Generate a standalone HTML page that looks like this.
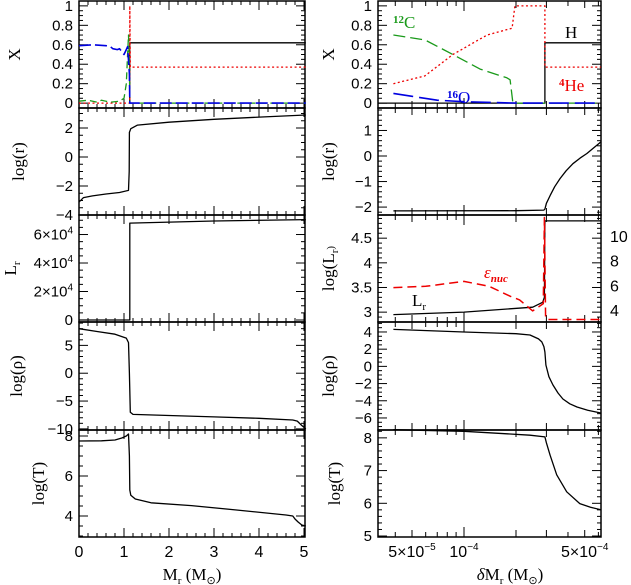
<!DOCTYPE html>
<html><head><meta charset="utf-8"><style>
html,body{margin:0;padding:0;background:#fff;}
svg{display:block;font-family:"Liberation Sans",sans-serif;}
.t{font-family:"Liberation Serif",serif;}
</style></head><body>
<svg id="c" width="631" height="585" viewBox="0 0 631 585" xmlns="http://www.w3.org/2000/svg"></svg>
<script>
// ---- data: left column (x = M_r in Msun) ----
const lH_x=[1.13,1.13,5.04], lH_y=[0,0.62,0.62];
const lHe_x=[0,1.1,1.13,1.13,1.14,5.04], lHe_y=[0,0,0,1.0,0.37,0.37];
const lO_x=[0,0.3,0.6,0.7,0.75,0.85,0.9,0.95,1.0,1.05,1.08,1.12,1.13,5.04], lO_y=[0.59,0.6,0.59,0.58,0.56,0.55,0.56,0.53,0.5,0.55,0.58,0.3,0,0];
const lC_x=[0,0.2,0.4,0.5,0.7,0.9,1.0,1.05,1.08,1.1,1.12,1.13,5.04], lC_y=[0.02,0.03,0.01,0.03,0.01,0.02,0.05,0.2,0.5,0.7,0.4,0,0];
const lR_x=[0,0.05,0.1,0.3,0.6,0.9,1.1,1.115,1.12,1.15,1.3,2,3,4,5.04], lR_y=[-3.1,-2.95,-2.8,-2.68,-2.55,-2.45,-2.3,-1.0,1.7,1.95,2.2,2.4,2.6,2.75,2.9];
const lL_x=[0,1.12,1.13,1.13,3,5.04], lL_y=[0,0,0,68000,69500,70500];
const lRho_x=[0,0.4,0.8,1.05,1.1,1.12,1.14,1.2,2,3,4,4.75,4.85,4.95,5.04], lRho_y=[8,7.5,7,6.3,5.5,0,-7,-7.4,-7.6,-7.85,-8.1,-8.4,-8.6,-9.4,-10];
const lT_x=[0,0.5,0.8,0.95,1.05,1.1,1.12,1.13,1.15,1.25,1.6,2.5,3.5,4.6,4.75,4.8,4.87,4.95,5.04], lT_y=[7.75,7.76,7.8,7.9,8.0,8.1,7.0,5.3,5.04,4.85,4.66,4.52,4.3,4.05,4.0,3.85,3.7,3.55,3.5];
// ---- data: right column (x = dM_r in Msun, log axis) ----
const rH_x=[3.2e-5,2.94e-4,2.94e-4,6.2e-4], rH_y=[0,0,0.62,0.62];
const rHe_x=[3.9e-5,5.94e-5,8.63e-5,1.36e-4,1.9e-4,1.97e-4,2.94e-4,2.94e-4,6.2e-4], rHe_y=[0.2,0.28,0.5,0.7,0.77,1.0,1.0,0.37,0.37];
const rC_x=[3.9e-5,5.94e-5,8.63e-5,1.24e-4,1.77e-4,1.85e-4,1.92e-4,6.2e-4], rC_y=[0.7,0.65,0.5,0.35,0.26,0.24,0,0];
const rO_x=[3.9e-5,5e-5,7e-5,1e-4,2e-4,6.2e-4], rO_y=[0.1,0.07,0.03,0.015,0,0];
const rR_x=[3.9e-5,2e-4,2.9e-4,2.94e-4,3.0e-4,3.15e-4,3.35e-4,3.6e-4,3.9e-4,4.27e-4,4.7e-4,5.15e-4,5.6e-4,6.2e-4], rR_y=[-2.15,-2.14,-2.12,-2.08,-1.85,-1.55,-1.2,-0.88,-0.58,-0.3,-0.08,0.1,0.3,0.55];
const rL_x=[3.9e-5,1e-4,2.5e-4,2.85e-4,2.92e-4,2.94e-4,6.2e-4], rL_y=[2.95,3.0,3.1,3.2,3.3,4.85,4.85];
const rE_x=[3.9e-5,6e-5,1e-4,1.4e-4,1.85e-4,2.1e-4,2.5e-4,2.75e-4,2.88e-4,2.92e-4,2.97e-4,3.05e-4,6.2e-4], rE_y=[5.9,6.0,6.4,6.0,5.2,4.9,4.0,4.4,4.6,11.6,3.4,3.3,3.3];
const rRho_x=[3.9e-5,1e-4,2e-4,2.41e-4,2.7e-4,2.82e-4,2.9e-4,2.94e-4,2.98e-4,3.1e-4,3.27e-4,3.5e-4,3.74e-4,4.1e-4,4.51e-4,5.2e-4,6.2e-4], rRho_y=[4.3,4.0,3.8,3.65,3.2,2.84,2.3,1.67,0.16,-1.2,-2.16,-3.1,-3.8,-4.35,-4.72,-5.1,-5.42];
const rT_x=[3.9e-5,1e-4,2.41e-4,2.94e-4,3.0e-4,3.15e-4,3.44e-4,3.93e-4,4.68e-4,5.4e-4,6.2e-4], rT_y=[8.25,8.2,8.08,8.03,7.85,7.47,6.87,6.35,5.99,5.88,5.8];
// tick labels
const lxTicks=[0,1,2,3,4,5];
const rxTickVals=[5e-5,1e-4,5e-4];
const rxTickLabels=[["5×10","−5"],["10","−4"],["5×10","−4"]];

const NS="http://www.w3.org/2000/svg";
const svg=document.getElementById('c');
function el(tag,attrs,parent){const e=document.createElementNS(NS,tag);for(const k in attrs)e.setAttribute(k,attrs[k]);(parent||svg).appendChild(e);return e;}
const L0=79,L1=305,R0=378,R1=601;
const rows=[[1,108],[108,215],[215,322],[322,430],[430,537]];
function xl(v){return L0+45*v;}
function xr(v){return 464+172.7*Math.log10(v/1e-4);}
function ysc(row,lo,hi){const [a,b]=rows[row];return v=>b-(v-lo)/(hi-lo)*(b-a);}

function line(g,xs,ys,fx,fy,stroke,dash,name,w){
  let d='';for(let i=0;i<xs.length;i++){d+=(i?'L':'M')+fx(xs[i]).toFixed(1)+','+fy(ys[i]).toFixed(1);}
  const p=el('path',{d:d,fill:'none',stroke:stroke,'stroke-width':w||1.3,'stroke-linejoin':'round'},g);
  if(dash)p.setAttribute('stroke-dasharray',dash);
  
  
  return p;
}
function txt(g,x,y,s,opts){const t=el('text',Object.assign({x:x,y:y,'font-size':15},opts||{}),g);t.textContent=s;return t;}

function panel(name,x0,x1,row,fy,lo,hi,major,minor,labels,fmt,xIsLog){
  const [a,b]=rows[row];
  const g=el('g',{});
  
  
  for(let v=Math.ceil(lo/minor)*minor;v<=hi+1e-9;v+=minor){
    const isMaj=Math.abs(v/major-Math.round(v/major))<1e-6;const L=isMaj?9:4;const y=fy(v);
    el('line',{x1:x0,x2:x0+L,y1:y,y2:y,stroke:'#000','stroke-width':1},g);
    el('line',{x1:x1,x2:x1-L,y1:y,y2:y,stroke:'#000','stroke-width':1},g);
  }
  labels.forEach((v,i)=>{const t=txt(g,x0-6,fy(v)+5,'',{'text-anchor':'end'});fmt(t,v);});
  if(!xIsLog){
    for(let i=0;i<=25;i++){const v=i*0.2;const x=xl(v);if(x>x1)break;const L=(i%5==0)?9:4;
      el('line',{x1:x,x2:x,y1:a,y2:a+L,stroke:'#000'},g);el('line',{x1:x,x2:x,y1:b,y2:b-L,stroke:'#000'},g);}
  } else {
    const vals=[4e-5,5e-5,6e-5,7e-5,8e-5,9e-5,1e-4,2e-4,3e-4,4e-4,5e-4,6e-4];
    vals.forEach(v=>{const x=xr(v);const L=(v==1e-4)?10:((v==5e-5||v==5e-4||v==2e-4||v==3e-4)?7:5);
      el('line',{x1:x,x2:x,y1:a,y2:a+L,stroke:'#000'},g);el('line',{x1:x,x2:x,y1:b,y2:b-L,stroke:'#000'},g);});
  }
  el('rect',{x:x0,y:a,width:x1-x0,height:b-a,fill:'none',stroke:'#000','stroke-width':1.5},g);
  return g;
}
const num=(t,v)=>{t.textContent=(v<0?'−':'')+Math.abs(v);};
const lr=(t,v)=>{if(v==0){t.textContent='0';return;}t.textContent=(v/1e4)+'×10';const s=el('tspan',{dy:-6,'font-size':10},t);s.textContent='4';};

function ylabel(x,row,name,parts){
  const [a,b]=rows[row];const cy=(a+b)/2;
  const t=el('text',{x:x,y:cy,'font-size':17,'text-anchor':'middle',transform:`rotate(-90 ${x} ${cy})`,class:'t'});
  
  
  parts.forEach(p=>{const s=el('tspan',p[1]?{'font-size':11,dy:p[1]}:{},t);s.textContent=p[0];});
}

// LEFT COLUMN
let fy,g;
fy=ysc(0,-0.05,1.05);
g=panel('left-abundance-panel',L0,L1,0,fy,-0.05,1.05,0.2,0.05,[0,0.2,0.4,0.6,0.8,1],num,false);
line(g,lH_x,lH_y,xl,fy,'#000',null,'left-h-line');
line(g,lHe_x,lHe_y,xl,fy,'#e00','2,2.5','left-he-line');
line(g,lC_x,lC_y,xl,fy,'#1a9a1a','7,4','left-c12-line');
line(g,lO_x,lO_y,xl,fy,'#0000e0','12,4','left-o16-line',1.6);
ylabel(20,0,'left-x-axis-title',[['X']]);

fy=ysc(1,-4,3.38);
g=panel('left-radius-panel',L0,L1,1,fy,-4,3.38,2,0.5,[-4,-2,0,2],num,false);
line(g,lR_x,lR_y,xl,fy,'#000',null,'left-logr-line');
ylabel(24,1,'left-logr-title',[['log(r)']]);

fy=ysc(2,-1400,73700);
g=panel('left-luminosity-panel',L0,L1,2,fy,-1400,73700,20000,5000,[0,20000,40000,60000],lr,false);
line(g,lL_x,lL_y,xl,fy,'#000',null,'left-lr-line');
ylabel(16,2,'left-lr-title',[['L'],['r',4]]);

fy=ysc(3,-10.2,9.2);
g=panel('left-density-panel',L0,L1,3,fy,-10.2,9.2,5,1,[-10,-5,0,5],num,false);
line(g,lRho_x,lRho_y,xl,fy,'#000',null,'left-logrho-line');
ylabel(22,3,'left-logrho-title',[['log(ρ)']]);

fy=ysc(4,2.95,8.3);
g=panel('left-temperature-panel',L0,L1,4,fy,2.95,8.3,2,0.5,[4,6,8],num,false);
line(g,lT_x,lT_y,xl,fy,'#000',null,'left-logt-line');
ylabel(44,4,'left-logt-title',[['log(T)']]);

lxTicks.forEach(v=>{const t=txt(svg,xl(v),557,String(v),{'text-anchor':'middle','font-size':16});});
{const t=el('text',{x:192,y:580,'font-size':17,'text-anchor':'middle',class:'t'});
 const a=el('tspan',{},t);a.textContent='M';const b=el('tspan',{dy:4,'font-size':11},t);b.textContent='r';const c=el('tspan',{dy:-4},t);c.textContent=' (M';const d=el('tspan',{dy:4,'font-size':11},t);d.textContent='⊙';const e=el('tspan',{dy:-4},t);e.textContent=')';}

// RIGHT COLUMN
fy=ysc(0,-0.05,1.05);
g=panel('right-abundance-panel',R0,R1,0,fy,-0.05,1.05,0.2,0.05,[0,0.2,0.4,0.6,0.8,1],num,true);
line(g,rH_x,rH_y,xr,fy,'#000',null,'right-h-line');
line(g,rHe_x,rHe_y,xr,fy,'#e00','2,2.5','right-he-line');
line(g,rC_x,rC_y,xr,fy,'#1a9a1a','12,5','right-c12-line');
line(g,rO_x,rO_y,xr,fy,'#0000e0','20,6','right-o16-line',1.6);
{let t=txt(g,393,28,'',{fill:'#1a9a1a',class:'t','font-size':17});
 let s=el('tspan',{dy:-5,'font-size':11,'font-weight':'bold'},t);s.textContent='12';s=el('tspan',{dy:5},t);s.textContent='C';
 t=txt(g,447,103,'',{fill:'#0000e0',class:'t','font-size':17});
 s=el('tspan',{dy:-5,'font-size':11,'font-weight':'bold'},t);s.textContent='16';s=el('tspan',{dy:5},t);s.textContent='O';
 t=txt(g,565,38,'H',{class:'t','font-size':17});
 t=txt(g,559,91,'',{fill:'#e00',class:'t','font-size':17});
 s=el('tspan',{dy:-5,'font-size':11,'font-weight':'bold'},t);s.textContent='4';s=el('tspan',{dy:5},t);s.textContent='He';}
ylabel(334,0,'right-x-axis-title',[['X']]);

fy=ysc(1,-2.31,1.88);
g=panel('right-radius-panel',R0,R1,1,fy,-2.31,1.88,1,0.2,[-2,-1,0,1],num,true);
line(g,rR_x,rR_y,xr,fy,'#000',null,'right-logr-line');
ylabel(334,1,'right-logr-title',[['log(r)']]);

fy=ysc(2,2.8,4.97);
const fe=ysc(2,3.1,11.8);
g=panel('right-luminosity-panel',R0,R1,2,fy,2.8,4.97,0.5,0.1,[3,3.5,4,4.5],num,true);
line(g,rL_x,rL_y,xr,fy,'#000',null,'right-logl-line');
line(g,rE_x,rE_y,xr,fe,'#e00','9,5','right-eps-nuc-line',1.5);
[4,6,8,10].forEach(v=>{const t=txt(g,610,fe(v)+5,String(v),{'font-size':16});});
{let t=txt(g,484,278,'ε',{fill:'#e00',class:'t','font-size':17,'font-style':'italic'});
 let s=el('tspan',{dy:4,'font-size':11,'font-weight':'bold'},t);s.textContent='nuc';
 t=txt(g,412,306,'L',{class:'t','font-size':17});
 s=el('tspan',{dy:4,'font-size':11},t);s.textContent='r';}
ylabel(334,2,'right-logl-title',[['log(L'],['r',4],[')',-4]]);

fy=ysc(3,-7.4,5.16);
g=panel('right-density-panel',R0,R1,3,fy,-7.4,5.16,2,0.5,[-6,-4,-2,0,2,4],num,true);
line(g,rRho_x,rRho_y,xr,fy,'#000',null,'right-logrho-line');
ylabel(334,3,'right-logrho-title',[['log(ρ)']]);

fy=ysc(4,4.97,8.24);
g=panel('right-temperature-panel',R0,R1,4,fy,4.97,8.24,1,0.2,[5,6,7,8],num,true);
line(g,rT_x,rT_y,xr,fy,'#000',null,'right-logt-line');
ylabel(340,4,'right-logt-title',[['log(T)']]);

rxTickVals.forEach((v,i)=>{const t=txt(svg,xr(v),557,rxTickLabels[i][0],{'text-anchor':'middle','font-size':16});
 
 const s=el('tspan',{dy:-7,'font-size':10},t);s.textContent=rxTickLabels[i][1];});
{const t=el('text',{x:510,y:580,'font-size':17,'text-anchor':'middle',class:'t'});
 const a=el('tspan',{'font-style':'italic'},t);a.textContent='δ';const a2=el('tspan',{},t);a2.textContent='M';const b=el('tspan',{dy:4,'font-size':11},t);b.textContent='r';const c=el('tspan',{dy:-4},t);c.textContent=' (M';const d=el('tspan',{dy:4,'font-size':11},t);d.textContent='⊙';const e=el('tspan',{dy:-4},t);e.textContent=')';}
</script>
</body></html>
